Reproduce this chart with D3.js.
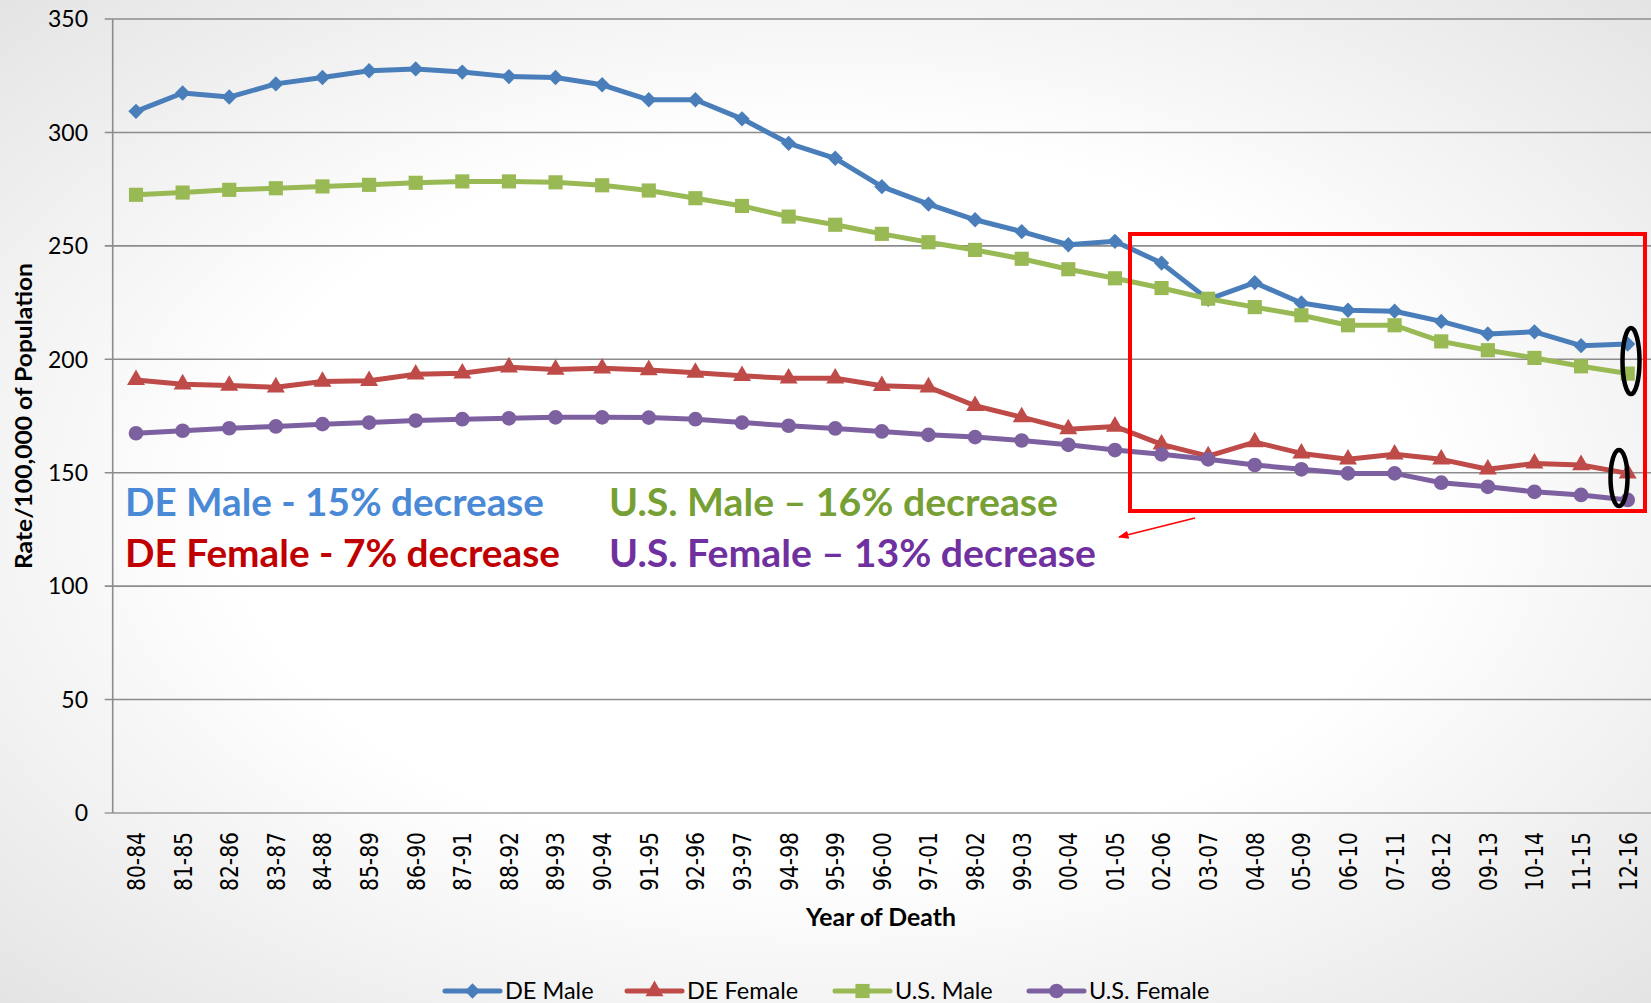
<!DOCTYPE html>
<html><head><meta charset="utf-8">
<script src="https://cdn.jsdelivr.net/npm/d3@7"></script>
<style>html,body{margin:0;padding:0;overflow:hidden;} svg{display:block;}</style>
</head><body>
<script>
const categories = ["80-84","81-85","82-86","83-87","84-88","85-89","86-90","87-91","88-92","89-93","90-94","91-95","92-96","93-97","94-98","95-99","96-00","97-01","98-02","99-03","00-04","01-05","02-06","03-07","04-08","05-09","06-10","07-11","08-12","09-13","10-14","11-15","12-16"];
const deMale = [309.3,317.4,315.6,321.4,324.2,327.2,328.0,326.6,324.6,324.2,321.0,314.4,314.4,306.0,295.2,288.6,276.1,268.4,261.5,256.3,250.5,252.0,242.4,226.4,233.8,224.8,221.6,221.2,216.7,211.2,212.1,206.0,206.7];
const deFemale = [190.9,189.0,188.4,187.7,190.2,190.5,193.4,193.8,196.5,195.5,196.0,195.3,194.1,192.7,191.6,191.6,188.3,187.7,179.5,174.5,169.2,170.4,162.5,157.3,163.5,158.5,155.9,158.1,155.9,151.5,154.1,153.4,149.7];
const usMale = [272.5,273.5,274.7,275.4,276.2,276.9,277.8,278.4,278.4,278.0,276.7,274.4,271.0,267.6,262.9,259.3,255.3,251.6,248.2,244.3,239.7,235.7,231.4,226.7,223.0,219.4,215.0,215.0,207.9,204.0,200.6,196.9,193.7];
const usFemale = [167.4,168.5,169.6,170.4,171.4,172.1,173.0,173.6,174.0,174.4,174.4,174.3,173.6,172.1,170.7,169.5,168.2,166.7,165.7,164.2,162.3,160.0,158.1,155.9,153.4,151.5,149.7,149.7,145.6,143.8,141.6,140.2,138.0];
const yTicks = [0,50,100,150,200,250,300,350];
const seriesNames = ["DE Male","DE Female","U.S. Male","U.S. Female"];
const annotations = [
  {text:"DE Male - 15% decrease", color:"#4a89d6"},
  {text:"DE Female - 7% decrease", color:"#c00000"},
  {text:"U.S. Male \u2013 16% decrease", color:"#76a034"},
  {text:"U.S. Female \u2013 13% decrease", color:"#7030a0"}
];

const W = 1651, H = 1003;
const M = {left:112.7, right:1651, top:19, bottom:813};
const series = [
  {name:seriesNames[0], values:deMale, color:"#4a7ebb", sym:d3.symbolDiamond2, size:150},
  {name:seriesNames[1], values:deFemale, color:"#be4b48", sym:d3.symbolTriangle, size:140},
  {name:seriesNames[2], values:usMale, color:"#98b954", sym:d3.symbolSquare, size:200},
  {name:seriesNames[3], values:usFemale, color:"#7d60a0", sym:d3.symbolCircle, size:170}
];

const svg = d3.select("body").append("svg").attr("width",W).attr("height",H);
const defs = svg.append("defs");
const rg = defs.append("radialGradient").attr("id","bg").attr("cx","50%").attr("cy","50%").attr("r","72%");
rg.append("stop").attr("offset","0.5").attr("stop-color","#ffffff");
rg.append("stop").attr("offset","1").attr("stop-color","#e3e3e3");
const mk = defs.append("marker").attr("id","arrow").attr("viewBox","0 0 10 10").attr("refX",9).attr("refY",5)
  .attr("markerWidth",7).attr("markerHeight",7).attr("orient","auto");
mk.append("path").attr("d","M0,1 L10,5 L0,9 Z").attr("fill","#ff0000");

svg.append("rect").attr("width",W).attr("height",H).attr("fill","url(#bg)");

const x = d3.scalePoint().domain(categories).range([M.left, M.right]).padding(0.5);
const y = d3.scaleLinear().domain([0,350]).range([M.bottom, M.top]);

// gridlines
svg.append("g").selectAll("line").data(yTicks).join("line")
  .attr("x1",M.left-8).attr("x2",M.right).attr("y1",d=>y(d)).attr("y2",d=>y(d))
  .attr("stroke",d=>d===0?"#9a9a9a":"#8c8c8c").attr("stroke-width",1.6);
svg.append("line").attr("x1",M.left).attr("x2",M.left).attr("y1",M.top).attr("y2",M.bottom)
  .attr("stroke","#8c8c8c").attr("stroke-width",1.6);

// y tick labels
svg.append("g").selectAll("text").data(yTicks).join("text")
  .attr("x",88).attr("y",d=>y(d)).attr("dy","0.36em").attr("text-anchor","end")
  .attr("font-family","Lato, 'Open Sans', sans-serif").attr("font-size",23).attr("fill","#000")
  .text(d=>d);

// x tick labels
svg.append("g").selectAll("text").data(categories).join("text")
  .attr("transform",d=>`translate(${x(d)},832) rotate(-90)`)
  .attr("dy","0.37em").attr("text-anchor","end")
  .attr("font-family","'DejaVu Sans', Verdana, sans-serif").attr("font-size",24).attr("fill","#000")
  .attr("textLength",59).attr("lengthAdjust","spacingAndGlyphs")
  .text(d=>d);

// axis titles
svg.append("text").attr("transform","translate(24,416) rotate(-90)").attr("text-anchor","middle")
  .attr("dy","0.35em").attr("font-family","Lato, sans-serif").attr("font-weight","bold").attr("font-size",23)
  .attr("textLength",306).attr("lengthAdjust","spacingAndGlyphs")
  .text("Rate/100,000 of Population");
svg.append("text").attr("x",881).attr("y",918).attr("text-anchor","middle").attr("dy","0.35em")
  .attr("font-family","Lato, sans-serif").attr("font-weight","bold").attr("font-size",24)
  .attr("textLength",150).attr("lengthAdjust","spacingAndGlyphs")
  .text("Year of Death");

// lines + markers
const line = d3.line().x((d,i)=>x(categories[i])).y(d=>y(d));
series.forEach(s=>{
  svg.append("path").datum(s.values).attr("d",line).attr("fill","none")
    .attr("stroke",s.color).attr("stroke-width",5).attr("stroke-linejoin","round");
  svg.append("g").selectAll("path").data(s.values).join("path")
    .attr("transform",(d,i)=>`translate(${x(categories[i])},${y(d)})`)
    .attr("d",d3.symbol().type(s.sym).size(s.size)).attr("fill",s.color);
});

// annotation text
const annPos = [[125,516,419],[125,567,435],[609,516,449],[609,567,487]];
annotations.forEach((a,i)=>{
  svg.append("text").attr("x",annPos[i][0]).attr("y",annPos[i][1])
    .attr("font-family","Lato, sans-serif").attr("font-weight","bold").attr("font-size",38)
    .attr("fill",a.color).attr("textLength",annPos[i][2]).attr("lengthAdjust","spacingAndGlyphs")
    .text(a.text);
});

// red box, arrow, ellipses
svg.append("rect").attr("x",1130).attr("y",234).attr("width",515).attr("height",277)
  .attr("fill","none").attr("stroke","#ff0000").attr("stroke-width",4);
svg.append("line").attr("x1",1195).attr("y1",518).attr("x2",1119).attr("y2",537)
  .attr("stroke","#ff0000").attr("stroke-width",1.5).attr("marker-end","url(#arrow)");
svg.append("ellipse").attr("cx",1631).attr("cy",361).attr("rx",8.5).attr("ry",33)
  .attr("fill","none").attr("stroke","#000").attr("stroke-width",4.5);
svg.append("ellipse").attr("cx",1619).attr("cy",478).attr("rx",8.5).attr("ry",28)
  .attr("fill","none").attr("stroke","#000").attr("stroke-width",4.5);

// legend
const legX = [445, 627, 835, 1029];
const lg = svg.append("g");
series.forEach((s,i)=>{
  const g = lg.append("g").attr("transform",`translate(${legX[i]},991)`);
  g.append("line").attr("x1",0).attr("x2",55).attr("stroke",s.color).attr("stroke-width",5).attr("stroke-linecap","round");
  g.append("path").attr("transform","translate(27.5,0)").attr("d",d3.symbol().type(s.sym).size(s.size)).attr("fill",s.color);
  g.append("text").attr("x",60).attr("dy","0.35em").attr("font-family","Lato, sans-serif").attr("font-size",23.5)
    .attr("fill","#000").text(s.name);
});
</script>
</body></html>
